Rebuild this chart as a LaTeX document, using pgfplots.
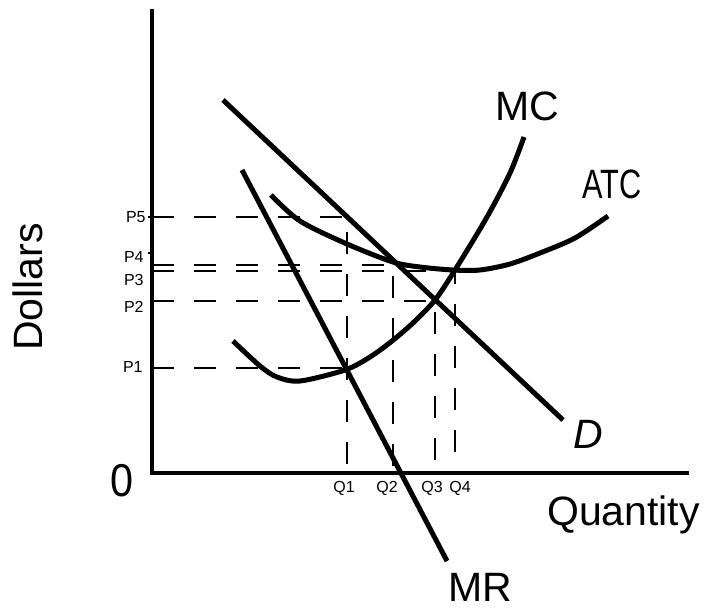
\documentclass[border=0pt]{standalone}
\usepackage{pgfplots}
\pgfplotsset{compat=1.18}
\usepackage{fontspec}
\setmainfont{Liberation Sans}

\tikzset{
  guide/.style={line width=1.25pt, dash pattern=on 11pt off 10pt},
  curve/.style={line width=2.5pt},
  lbl/.style={inner sep=0pt, font=\fontsize{8}{9}\selectfont},
  big/.style={inner sep=0pt, font=\fontsize{20.5}{24}\selectfont},
}

\begin{document}
\begin{tikzpicture}
\begin{axis}[
  scale only axis, width=353pt, height=303.5pt,
  xmin=-152, xmax=554, ymin=-134, ymax=473,
  hide axis, clip=false,
]
\path (axis cs:-152,-134) rectangle (axis cs:554,473);

% price and quantity guides
\addplot[guide] coordinates {(0,256) (195,256) (195,0)};   % P5 / Q1
\addplot[guide] coordinates {(0,105) (195,105)};           % P1
\addplot[guide] coordinates {(0,208) (241,208) (241,0)};   % P4 / Q2
\addplot[guide] coordinates {(0,202) (303,202) (303,0)};   % P3 / Q4
\addplot[guide] coordinates {(0,172) (283,172) (283,0)};   % P2 / Q3

% axes
\addplot[line width=1.6pt] coordinates {(0,464) (0,0) (537,0)};
\addplot[line width=0.8pt] coordinates {(-4,256) (0,256)};
\addplot[line width=0.8pt] coordinates {(-4,220) (0,220)};

% demand
\addplot[curve] coordinates {(71,373) (411,53)};
% marginal revenue
\addplot[curve] coordinates {(90,303) (295,-88)};
% marginal cost
\addplot[curve, smooth] coordinates {
  (81,132) (108,107) (125,96) (148,92) (193,103) (218,116) (240,132)
  (262,151) (283,173) (303,203) (335,256) (358,300) (372,336)};
% average total cost
\addplot[curve, smooth] coordinates {
  (119,278) (148,252) (195,229) (241,211) (268,206) (301,203)
  (328,203) (358,209) (388,220) (423,235) (456,257)};

% labels
\node[big, rotate=90] at (axis cs:-124,186) {Dollars};
\node[inner sep=0pt, font=\fontsize{23}{26}\selectfont, xscale=0.9] at (axis cs:-30,-8) {0};
\node[big, anchor=base] at (axis cs:471.5,-52) {Quantity};
\node[big, anchor=base] at (axis cs:328,-128) {MR};
\node[big, anchor=base] at (axis cs:375.5,353) {MC};
\node[big, anchor=base, xscale=0.75] at (axis cs:460,275) {ATC};
\node[big, anchor=base] at (axis cs:436.5,25) {\itshape D};

\node[lbl, anchor=east] at (axis cs:-6,256) {P5};
\node[lbl, anchor=east] at (axis cs:-8,216) {P4};
\node[lbl, anchor=east] at (axis cs:-8,193) {P3};
\node[lbl, anchor=east] at (axis cs:-8,166) {P2};
\node[lbl, anchor=east] at (axis cs:-9,106) {P1};

\node[lbl] at (axis cs:192,-15) {Q1};
\node[lbl] at (axis cs:235,-15) {Q2};
\node[lbl] at (axis cs:280,-15) {Q3};
\node[lbl] at (axis cs:308,-15) {Q4};
\end{axis}
\end{tikzpicture}
\end{document}
